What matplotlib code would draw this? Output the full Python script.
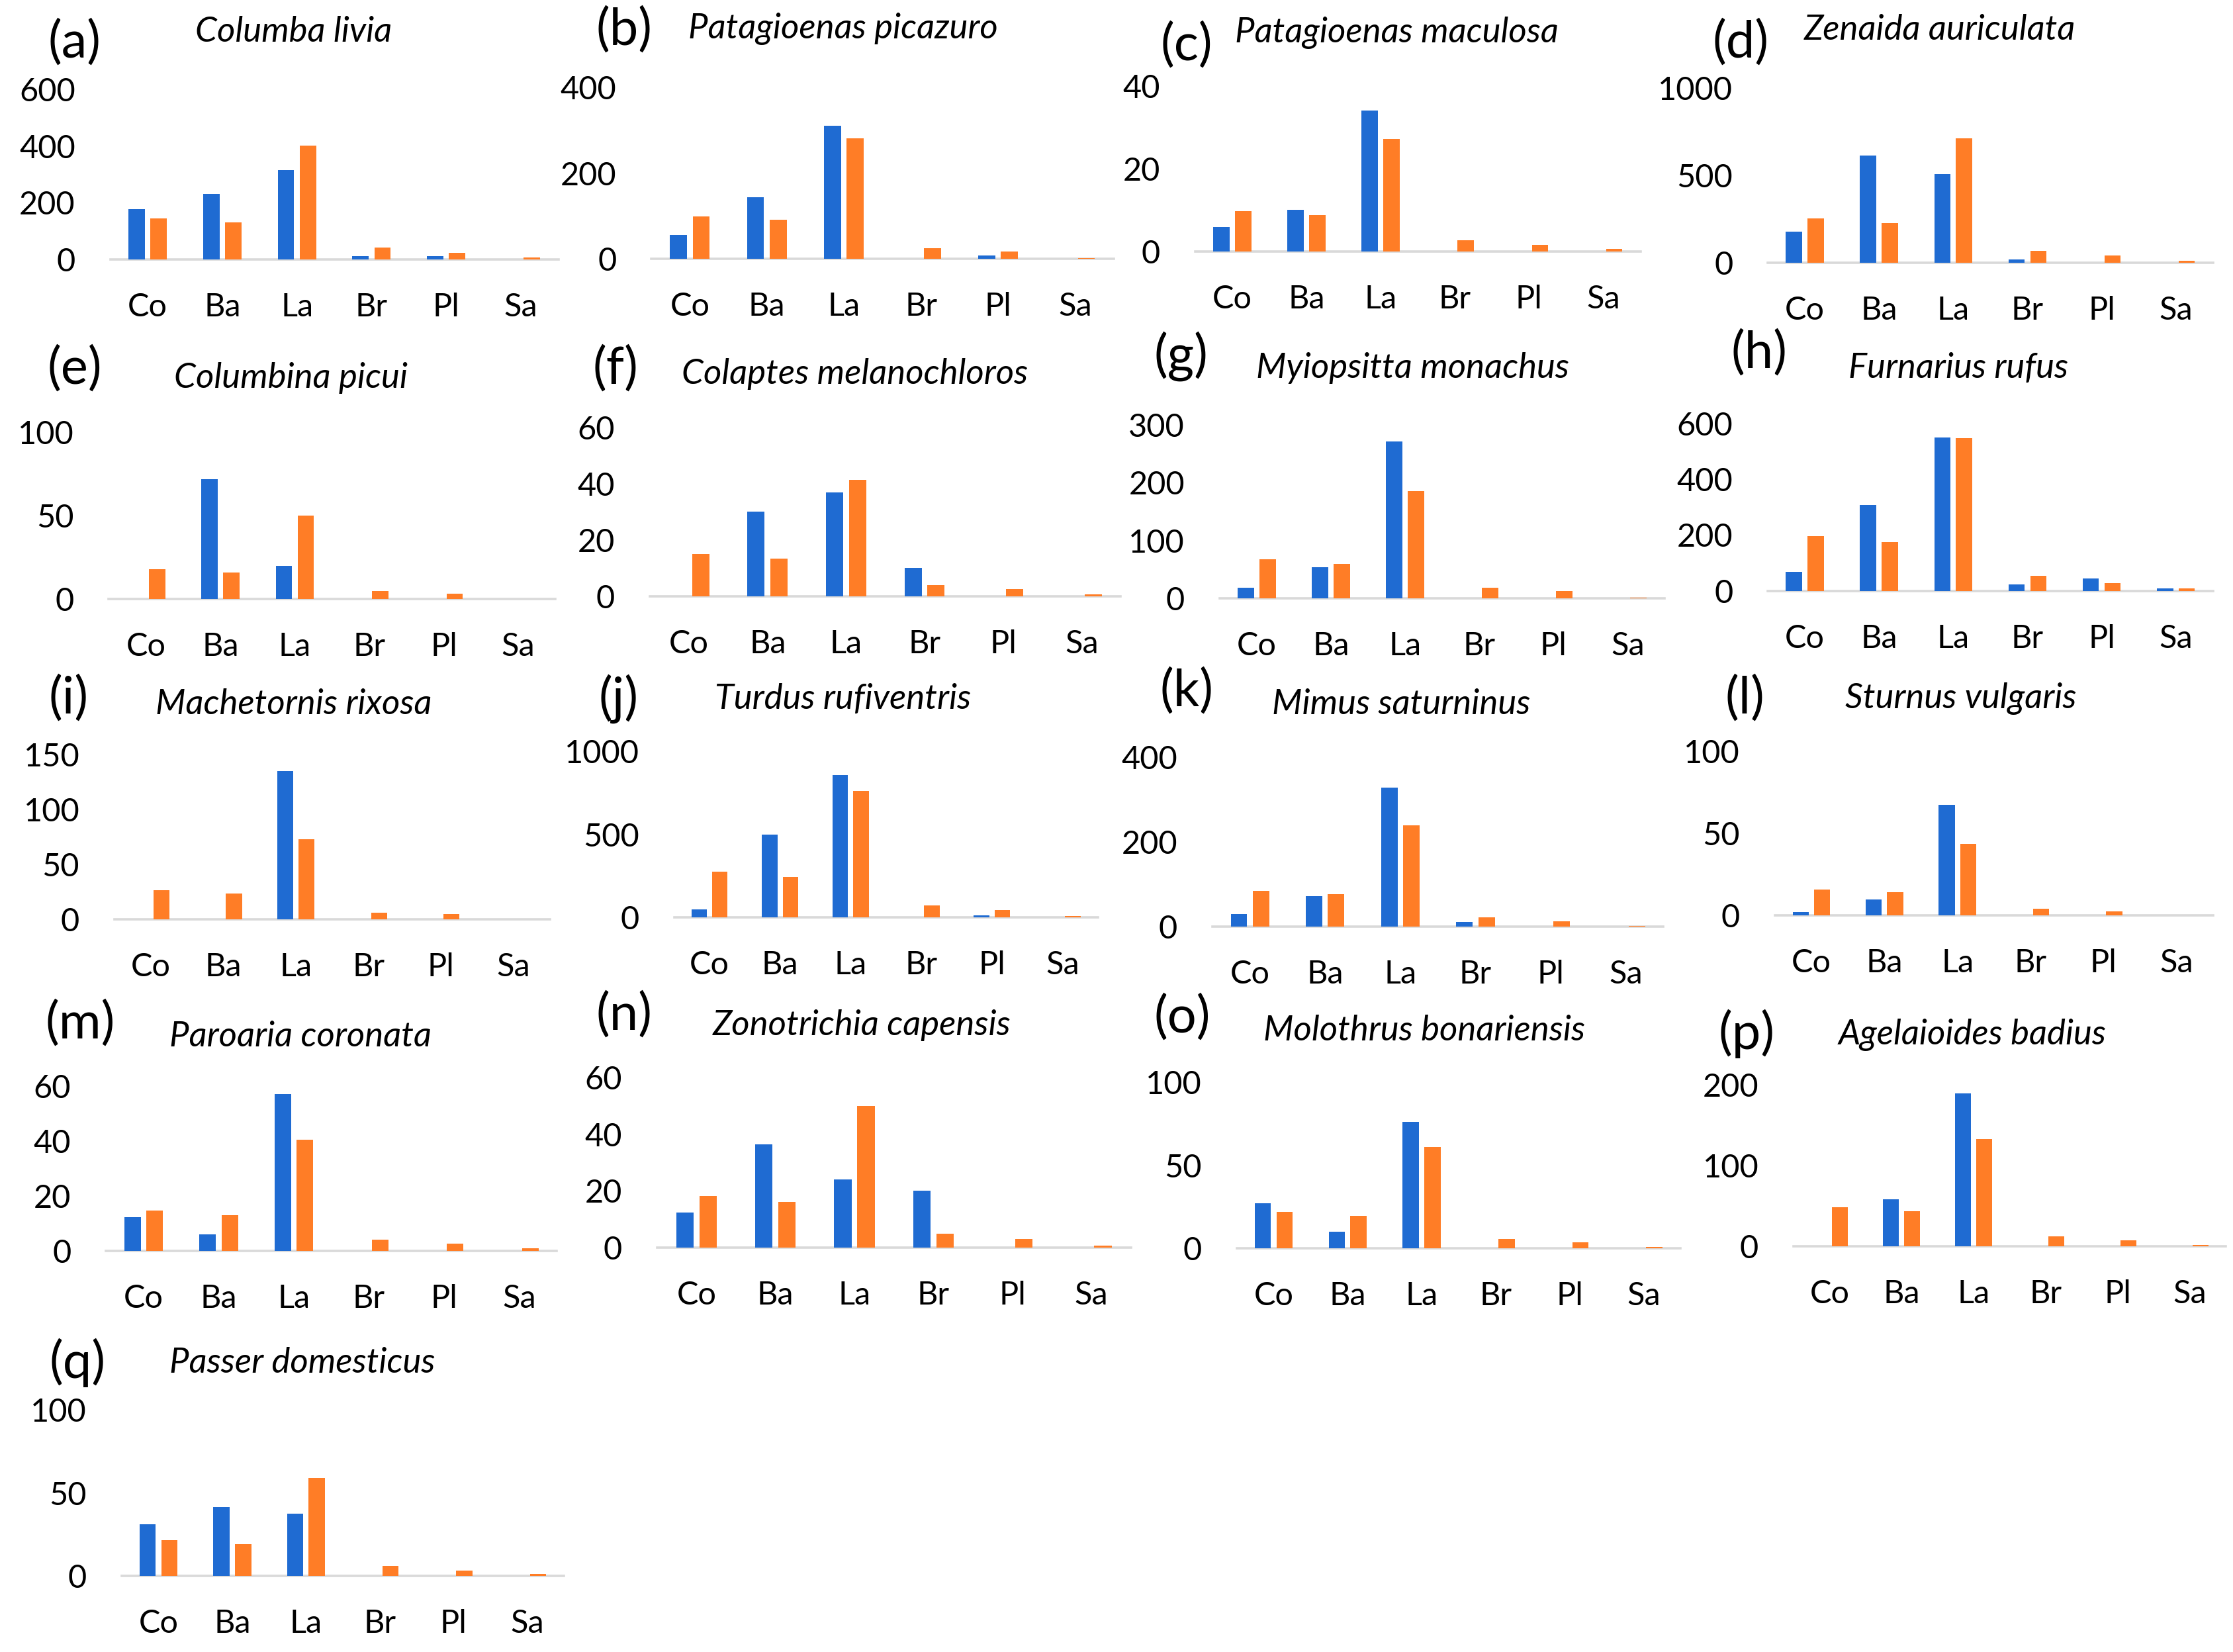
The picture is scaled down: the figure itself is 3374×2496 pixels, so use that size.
import matplotlib
matplotlib.use('Agg')
import matplotlib.pyplot as plt
import numpy as np

plt.rcParams['font.family'] = ['Lato', 'DejaVu Sans']

CATEGORIES = ['Co', 'Ba', 'La', 'Br', 'Pl', 'Sa']

LETTERS = list('abcdefghijklmnopq')

SPECIES = ['Columba livia', 'Patagioenas picazuro', 'Patagioenas maculosa',
           'Zenaida auriculata', 'Columbina picui', 'Colaptes melanochloros',
           'Myiopsitta monachus', 'Furnarius rufus', 'Machetornis rixosa',
           'Turdus rufiventris', 'Mimus saturninus', 'Sturnus vulgaris',
           'Paroaria coronata', 'Zonotrichia capensis', 'Molothrus bonariensis',
           'Agelaioides badius', 'Passer domesticus']

BLUE = [
    [178, 231, 315, 13, 12, 0],
    [57, 144, 310, 0, 9, 0],
    [5.9, 10.1, 34.1, 0, 0, 0],
    [181, 616, 510, 22, 0, 0],
    [0, 72, 20, 0, 0, 0],
    [0, 30, 37, 10, 0, 0],
    [18, 54, 271, 0, 0, 0],
    [68, 308, 550, 24, 45, 8],
    [0, 0, 135, 0, 0, 0],
    [49, 500, 856, 0, 13, 0],
    [31, 73, 329, 11, 0, 0],
    [2, 9.8, 67.4, 0, 0, 0],
    [12.2, 5.9, 57, 0, 0, 0],
    [12.3, 36.4, 24, 20, 0, 0],
    [27, 10, 76, 0, 0, 0],
    [0, 57.7, 190, 0, 0, 0],
    [31.3, 41.4, 37.5, 0, 0, 0],
]

ORANGE = [
    [146, 131, 403, 42, 24, 7],
    [100, 91, 282, 26, 17, 2],
    [9.7, 8.7, 27.2, 2.7, 1.6, 0.6],
    [256, 229, 715, 68, 41, 12],
    [18, 16, 50, 5, 3.3, 0],
    [15, 13.4, 41.3, 4, 2.6, 0.6],
    [67, 59, 186, 18, 12, 1.5],
    [196, 175, 547, 53, 29, 8],
    [26, 23.5, 73, 6, 4.6, 0],
    [277, 244, 762, 74, 46, 10],
    [85, 77, 240, 23, 14, 3],
    [15.5, 14, 43.5, 4.1, 2.6, 0],
    [14.6, 13, 40.5, 4, 2.6, 0.8],
    [18.2, 16, 50, 4.7, 2.9, 0.6],
    [22, 19.7, 60.8, 5.9, 3.6, 1],
    [48, 42.9, 133, 11.6, 7.4, 1],
    [21.5, 19.3, 59.3, 6, 3.5, 1.3],
]

YMAX = [600, 400, 40, 1000, 100, 60, 300, 600, 150, 1000, 400, 100, 60, 60, 100, 200, 100]
YSTEP = [200, 200, 20, 500, 50, 20, 100, 200, 50, 500, 200, 50, 20, 20, 50, 100, 50]

# layout, in pixels of a 1560 x 1154 view of the page:
# plot area left, right, zero line, top line
BOXES = [
    (77, 390, 181.3, 62.5), (455, 778, 181, 61), (835, 1146, 175.5, 60), (1235, 1546, 183.7, 61.6),
    (76, 388, 418.5, 302), (454, 783, 416.4, 298.7), (852, 1163, 417.9, 296.9), (1235, 1546, 412.8, 295.8),
    (80, 384, 642, 527), (471, 767, 641, 524.6), (847, 1162, 647.5, 529), (1240, 1546, 639.4, 524.6),
    (74, 389, 873.6, 758.7), (459, 790, 871.3, 752.7), (864, 1174, 872.2, 755.7), (1253, 1555, 870.4, 758),
    (85, 394, 1101, 985),
]
# panel letter centre, species title centre
LABEL_XY = [(52, 30), (436, 21), (829, 32), (1216, 30), (52, 258), (430, 258), (825, 249), (1229, 247),
            (48, 488), (432, 488), (829, 483), (1219, 488), (56, 715), (436, 709), (826, 711), (1220, 722),
            (54, 952)]
TITLE_XY = [(205, 22), (589, 20), (976, 23), (1355, 21), (203, 264), (597, 261), (987, 257), (1368, 257),
            (205, 492), (589, 488), (979, 492), (1370, 488), (210, 724), (602, 716), (995, 720), (1378, 723),
            (211, 952)]

W, H = 1560.0, 1154.0
BLUE_C = '#1F6BD2'
ORANGE_C = '#FF7D26'

fig = plt.figure(figsize=(16.87, 12.48), dpi=200)

x = np.arange(len(CATEGORIES))
bw = 0.22
off = 0.147

for i in range(len(SPECIES)):
    l, r, y0, yt = BOXES[i]
    ax = fig.add_axes([l / W, 1 - y0 / H, (r - l) / W, (y0 - yt) / H])
    ax.bar(x - off, BLUE[i], width=bw, color=BLUE_C, zorder=3)
    ax.bar(x + off, ORANGE[i], width=bw, color=ORANGE_C, zorder=3)
    ax.set_xlim(-0.5, len(CATEGORIES) - 0.5)
    ax.set_ylim(0, YMAX[i])
    ax.set_yticks(np.arange(0, YMAX[i] + 1, YSTEP[i]))
    ax.set_xticks(x)
    ax.set_xticklabels(CATEGORIES)
    for s in ['top', 'right', 'left']:
        ax.spines[s].set_visible(False)
    ax.spines['bottom'].set_color('#D9D9D9')
    ax.spines['bottom'].set_linewidth(1.3)
    ax.spines['bottom'].set_zorder(2)
    ax.tick_params(axis='both', length=0, labelsize=17.5, colors='black')
    ax.tick_params(axis='x', pad=18)
    ax.tick_params(axis='y', pad=19)
    ax.patch.set_visible(False)

    lx, ly = LABEL_XY[i]
    fig.text(lx / W, 1 - ly / H, '(' + LETTERS[i] + ')', fontsize=28,
             ha='center', va='center')
    tx, ty = TITLE_XY[i]
    fig.text(tx / W, 1 - ty / H, SPECIES[i], fontsize=19, style='italic',
             ha='center', va='center')

fig.savefig('out.png', dpi=200, facecolor='white')
